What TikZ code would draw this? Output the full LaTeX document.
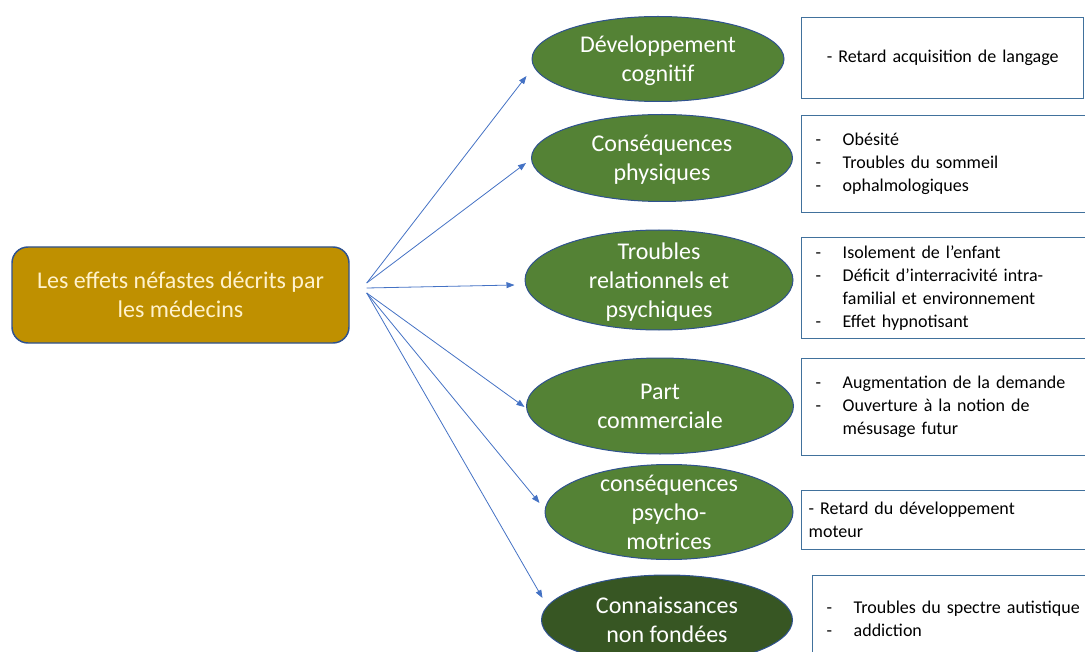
\documentclass[tikz,border=0pt]{standalone}
\usepackage{fontspec}
\setmainfont{Carlito}
\usetikzlibrary{shapes.geometric,arrows.meta,calc}
\definecolor{gold}{RGB}{191,144,0}
\definecolor{leafgreen}{RGB}{84,130,53}
\definecolor{darkleaf}{RGB}{55,86,35}
\definecolor{edgeblue}{RGB}{47,82,143}
\definecolor{boxblue}{RGB}{65,113,156}
\definecolor{arrowblue}{RGB}{68,114,196}
\definecolor{cream}{RGB}{255,242,204}
\newcommand{\tiret}{\makebox[20.25pt][l]{-}}
\newcommand{\etiq}[1]{\raisebox{-2pt}[\height][\depth]{\begin{tabular}{@{}c@{}}#1\end{tabular}}}
\begin{document}
\begin{tikzpicture}[x=0.75pt,y=0.75pt,yscale=-1,xscale=1,
    effet/.style={ellipse, draw=edgeblue, line width=0.75pt, fill=leafgreen, text=white, inner sep=-8pt, font=\fontsize{18}{21.75}\selectfont},
    liste/.style={rectangle, draw=boxblue, line width=1.1pt, fill=white, anchor=north west, align=left, inner xsep=10.5pt, inner ysep=0pt, text width=205pt, font=\fontsize{13.5}{17.25}\selectfont},
    fan/.style={arrowblue, line width=0.6pt, -{Triangle[length=6pt,width=4.5pt]}}]
            \useasboundingbox (0, 0) rectangle (1085, 652);
            \clip (0, 0) rectangle (1085, 652);
            %
            %Source
            \node[rectangle, rounded corners=12pt, draw=edgeblue, line width=1.1pt, fill=gold, text=cream, minimum width=252.75pt, minimum height=72pt, align=center, font=\fontsize{18}{21.75}\selectfont] (medecins) at (180.5, 295) {Les effets néfastes décrits par\\les médecins};
            %
            %Ellipses
            \node[effet, minimum width=189pt, minimum height=63.75pt] (dev) at (658, 59) {\etiq{Développement\\cognitif}};
            \node[effet, minimum width=195.75pt, minimum height=65.25pt] (phys) at (662, 158) {\etiq{Conséquences\\physiques}};
            \node[effet, minimum width=201pt, minimum height=75pt] (relat) at (659, 280) {\etiq{Troubles\\relationnels et\\psychiques}};
            \node[effet, minimum width=200.25pt, minimum height=72pt] (comm) at (660, 406) {\etiq{Part\\commerciale}};
            \node[effet, minimum width=186pt, minimum height=71.25pt] (psymot) at (669, 512) {\etiq{conséquences\\psycho-\\motrices}};
            \node[effet, fill=darkleaf, minimum width=188.25pt, minimum height=67.5pt] (connais) at (667, 620) {\etiq{Connaissances\\non fondées}};
            %
            %Boxes
            \node[liste, align=center, text width=190.5pt, minimum height=60.75pt] (lst1) at (801, 17) {- Retard acquisition de langage};
            \node[liste, minimum height=72.75pt] (lst2) at (801, 115) {\tiret Obésité\\\tiret Troubles du sommeil\\\tiret ophalmologiques};
            \node[liste, minimum height=75.75pt] (lst3) at (801, 237) {\tiret Isolement de l’enfant\\\tiret Déficit d’interracivité intra-\\\hspace*{20.25pt}familial et environnement\\\tiret Effet hypnotisant};
            \node[liste, minimum height=72.75pt] (lst4) at (801, 358) {\tiret Augmentation de la demande\\\tiret Ouverture à la notion de\\\hspace*{20.25pt}mésusage futur};
            \node[liste, inner xsep=5.25pt, text width=215pt, minimum height=44.25pt] (lst5) at (801, 490) {- Retard du développement\\moteur};
            \node[liste, minimum height=65.25pt] (lst6) at (812, 575) {\tiret Troubles du spectre autistique\\\tiret addiction};
            %
            %Arrows
            \coordinate (haut) at ($(medecins.east) + (17, -12)$);
            \coordinate (milieu) at ($(medecins.east) + (17, -7)$);
            \coordinate (bas) at ($(medecins.east) + (17, -2)$);
            \draw[fan] (haut) -- ($(dev.west) + (-5, 17)$);
            \draw[fan] (haut) -- ($(phys.west) + (-5, 5)$);
            \draw[fan] (milieu) -- ($(relat.west) + (-10, 5)$);
            \draw[fan] (bas) -- ($(comm.west) + (-1.5, 1)$);
            \draw[fan] (bas) -- ($(psymot.west) + (-5, -9)$);
            \draw[fan] (bas) -- ($(connais.west) + (1.5, -22)$);
\end{tikzpicture}
\end{document}
